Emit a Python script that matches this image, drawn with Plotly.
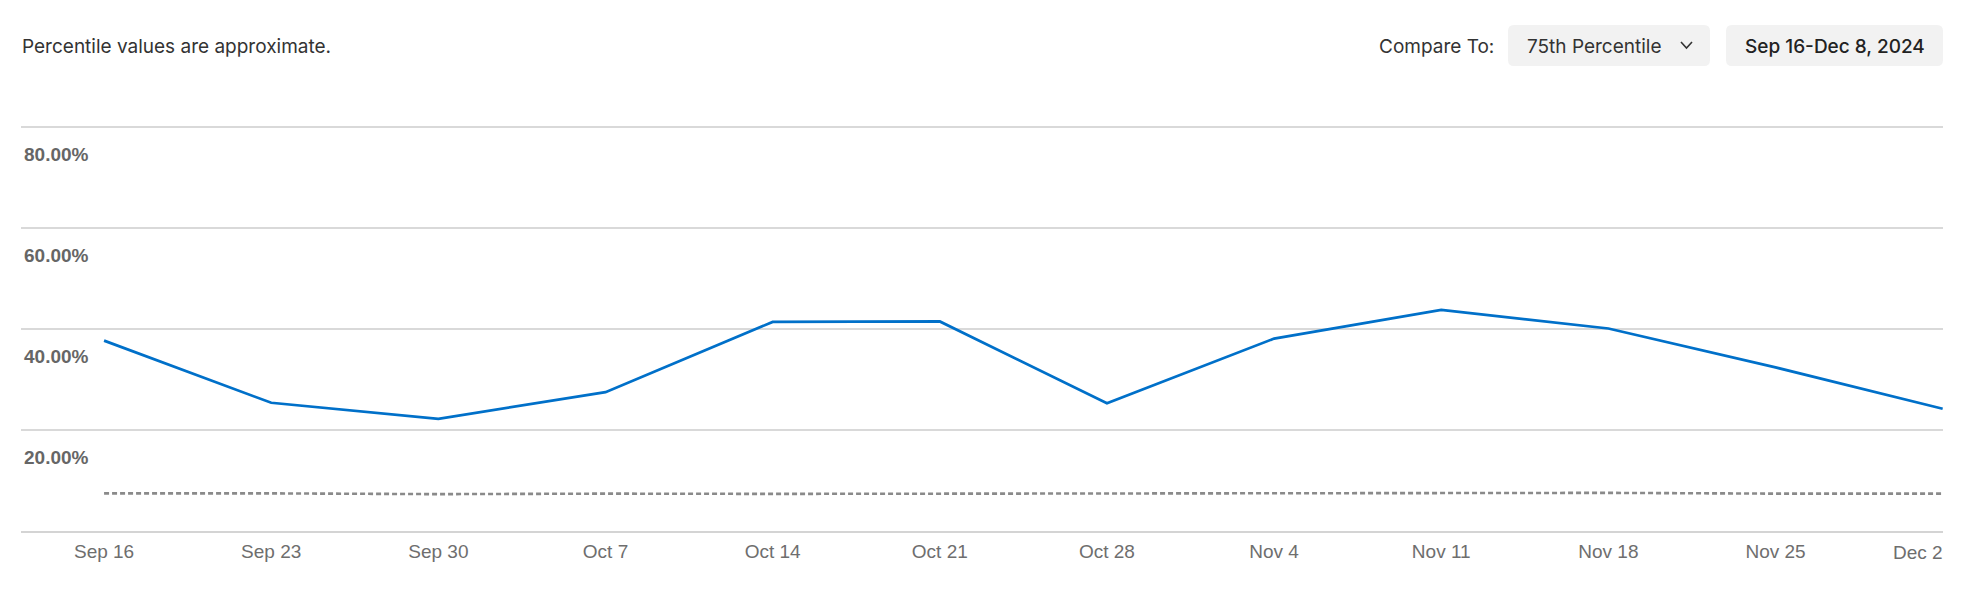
import plotly.graph_objects as go

# ---- data ----
week_starts = ["2024-09-16", "2024-09-23", "2024-09-30", "2024-10-07", "2024-10-14", "2024-10-21",
               "2024-10-28", "2024-11-04", "2024-11-11", "2024-11-18", "2024-11-25", "2024-12-02"]
week_labels = ["Sep 16", "Sep 23", "Sep 30", "Oct 7", "Oct 14", "Oct 21",
               "Oct 28", "Nov 4", "Nov 11", "Nov 18", "Nov 25", "Dec 2"]
app_values = [37.7, 25.4, 22.2, 27.5, 41.4, 41.5, 25.3, 38.1, 43.8, 40.1, 32.4, 24.2]
p75_values = [7.45, 7.45, 7.3, 7.4, 7.35, 7.4, 7.4, 7.45, 7.4, 7.55, 7.4, 7.4]
y_ticks = [20, 40, 60, 80]
y_tick_labels = ["20.00%", "40.00%", "60.00%", "80.00%"]

W, H = 1981, 597
L, R, T, B = 21, 38, 124, 66
PW, PH = W - L - R, H - T - B
Y_TOP = 80 + 3 / 5.05
X_RANGE = ["2024-09-12 12:30", "2024-12-02 00:20"]

def px(x):
    return (x - L) / PW

def py(y):
    return (H - B - y) / PH

def rounded_rect(x0, y0, x1, y1, r=6):
    X0, X1 = px(x0), px(x1)
    Y0, Y1 = py(y0), py(y1)
    rx, ry = r / PW, r / PH
    return (f"M {X0+rx},{Y0} L {X1-rx},{Y0} Q {X1},{Y0} {X1},{Y0-ry} "
            f"L {X1},{Y1+ry} Q {X1},{Y1} {X1-rx},{Y1} L {X0+rx},{Y1} "
            f"Q {X0},{Y1} {X0},{Y1+ry} L {X0},{Y0-ry} Q {X0},{Y0} {X0+rx},{Y0} Z")

fig = go.Figure()
fig.add_trace(go.Scatter(
    x=week_starts, y=p75_values, mode="lines", xaxis="x2",
    line=dict(color="#8a8a8a", width=2.6, dash="5px,3px"),
    hoverinfo="skip", showlegend=False, cliponaxis=False))
fig.add_trace(go.Scatter(
    x=week_starts, y=app_values, mode="lines",
    line=dict(color="#0070c9", width=2.7),
    hoverinfo="skip", showlegend=False, cliponaxis=False))

HF = "Inter, Liberation Sans, sans-serif"
XF = dict(size=19, color="#6e6e6e", family="Liberation Sans, Arial, sans-serif")

fig.update_layout(
    width=W, height=H,
    margin=dict(l=L, r=R, t=T, b=B, pad=0, autoexpand=False),
    paper_bgcolor="white", plot_bgcolor="white",
    font=dict(family="Liberation Sans, Arial, sans-serif", size=19, color="#6e6e6e"),
    xaxis=dict(
        type="date", range=X_RANGE,
        tickvals=week_starts[:-1], ticktext=week_labels[:-1],
        showgrid=False, zeroline=False,
        showline=True, linecolor="#d4d4d4", linewidth=2,
        ticks="", tickfont=XF,
        ticklabelstandoff=2, ticklabeloverflow="allow", automargin=False,
        fixedrange=True,
    ),
    xaxis2=dict(
        type="date", range=X_RANGE, overlaying="x", side="bottom",
        tickvals=week_starts[-1:], ticktext=week_labels[-1:],
        ticklabelposition="outside left",
        showgrid=False, zeroline=False, showline=False,
        ticks="", tickfont=XF,
        ticklabelstandoff=8, ticklabeloverflow="allow", automargin=False,
        fixedrange=True,
    ),
    yaxis=dict(
        range=[0, Y_TOP], tickvals=y_ticks, ticktext=y_tick_labels,
        showgrid=True, gridcolor="#d9d9d9", gridwidth=1.5,
        zeroline=False, showline=False, ticks="",
        ticklabelposition="inside", ticklabelshift=27, ticklabelstandoff=0,
        ticklabeloverflow="allow",
        tickfont=dict(size=19, color="#666666", family="Liberation Sans, Arial, sans-serif", weight="bold"),
        automargin=False, fixedrange=True,
    ),
    shapes=[
        dict(type="path", xref="paper", yref="paper", path=rounded_rect(1508, 25, 1710, 66),
             fillcolor="#f2f2f2", line=dict(width=0), layer="below"),
        dict(type="path", xref="paper", yref="paper", path=rounded_rect(1726, 25, 1943, 66),
             fillcolor="#f2f2f2", line=dict(width=0), layer="below"),
        dict(type="path", xref="paper", yref="paper",
             path=f"M {px(1681)},{py(42)} L {px(1686.5)},{py(48)} L {px(1692)},{py(42)}",
             line=dict(color="#333333", width=1.6)),
    ],
    annotations=[
        dict(text="Percentile values are approximate.", xref="paper", yref="paper",
             x=px(20), y=py(46), xanchor="left", yanchor="middle", showarrow=False,
             font=dict(family=HF, size=19, color="#333333")),
        dict(text="Compare To:", xref="paper", yref="paper",
             x=px(1496), y=py(46), xanchor="right", yanchor="middle", showarrow=False,
             font=dict(family=HF, size=19, color="#333333")),
        dict(text="75th Percentile", xref="paper", yref="paper",
             x=px(1525), y=py(46), xanchor="left", yanchor="middle", showarrow=False,
             font=dict(family=HF, size=19, color="#333333")),
        dict(text="Sep 16-Dec 8, 2024", xref="paper", yref="paper",
             x=px(1834.5), y=py(46), xanchor="center", yanchor="middle", showarrow=False,
             font=dict(family=HF, size=19, color="#222222", weight=500)),
    ],
)

fig.write_html("out.html", config={"displayModeBar": False},
               post_script="document.body.style.margin='0';document.body.style.overflow='hidden';")
